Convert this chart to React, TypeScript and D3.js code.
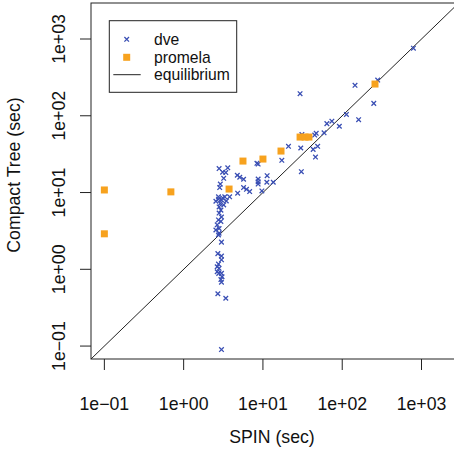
import React from "react";
import * as d3 from "d3";

const dveSpin = [790,280,145,29.4,250,113,161,64,74,92,59,47,45,31,21,30,43,49,46,17.3,30.5,8.4,8.7,8.7,8.7,8.7,11.3,11.2,13.5,9.7,6.8,4.75,5.1,5.7,5.7,6.2,4.8,
  2.8,3.6,3.1,3.4,3.2,2.9,2.85,
  2.75,3.0,3.3,3.8,2.9,3.2,2.75,2.55,3.45,3.1,
  2.8,2.95,2.8,3.0,2.75,2.95,2.65,2.8,2.55,2.8,2.75,
  3.0,2.7,3.0,3.0,2.75,2.65,2.8,2.65,2.77,3.0,3.05,2.95,3.0,2.7,3.4,3.0];
const dveTree = [760,292,249,194,145,104,89,79,85,73,60,59,56,57,40,38,36.5,40,29,26.3,18.7,24,23.5,15,13.8,12.9,16.6,13.6,13.6,10.5,10.3,16.8,15.8,14.9,11.6,11,9.8,
  20.5,21,18.4,18.2,15.3,12.9,11.6,
  8.8,8.0,8.8,8.8,7.2,6.9,8.2,7.7,7.75,8.5,
  6.5,5.9,5.4,4.8,4.4,4.2,3.8,3.4,3.25,2.95,2.8,
  2.26,1.6,1.49,1.33,1.17,1.08,1.03,0.93,0.885,0.885,0.80,0.735,0.68,0.48,0.42,0.09];

const promelaSpin = [0.1,0.1,0.69,3.74,5.6,10.0,16.9,29.4,34,38,259];
const promelaTree = [10.8,2.9,10.2,11.1,25.7,27.3,34.7,52.8,52.8,52.8,259];

const tickValues = [0.1, 1, 10, 100, 1000];
const tickLabels = ["1e\u221201", "1e+00", "1e+01", "1e+02", "1e+03"];
const legendLabels = ["dve", "promela", "equilibrium"];
const xTitle = "SPIN (sec)";
const yTitle = "Compact Tree (sec)";

const BLUE = "#3a4fb4";
const ORANGE = "#f7a21e";
const FONT = "Liberation Sans, Arial, sans-serif";

export default function App() {
  const W = 454, H = 452;
  const left = 91, right = 458.7, top = 3, bottom = 359;
  const lo = Math.pow(10, -1.1685), hi = Math.pow(10, 3.469);
  const x = d3.scaleLog().domain([lo, hi]).range([left, right]);
  const y = d3.scaleLog().domain([lo, hi]).range([bottom, top]);
  const fs = 17.7;
  const tick = 11;
  const s = 2.3;
  const sq = 7;
  const diag = d3.line<number>().x(v => x(v)).y(v => y(v))([lo, hi]) || "";

  return (
    <svg width={W} height={H} style={{ position: "absolute", left: 0, top: 0, background: "#fff" }} fontFamily={FONT}>
      <defs>
        <clipPath id="plotclip">
          <rect x={left} y={top} width={right - left} height={bottom - top} />
        </clipPath>
      </defs>
      <rect x={0} y={0} width={W} height={H} fill="#fff" />
      <g clipPath="url(#plotclip)">
        <path d={diag} stroke="#222" strokeWidth={1} fill="none" />
        {dveSpin.map((v, i) => {
          const cx = x(v), cy = y(dveTree[i]);
          return (
            <path key={"d" + i}
              d={`M${cx - s},${cy - s}L${cx + s},${cy + s}M${cx - s},${cy + s}L${cx + s},${cy - s}`}
              stroke={BLUE} strokeWidth={1.3} fill="none" />
          );
        })}
        {promelaSpin.map((v, i) => (
          <rect key={"p" + i} x={x(v) - sq / 2} y={y(promelaTree[i]) - sq / 2} width={sq} height={sq} fill={ORANGE} />
        ))}
      </g>
      <rect x={left} y={top} width={right - left} height={bottom - top} fill="none" stroke="#222" strokeWidth={1} />
      {tickValues.map((v, i) => (
        <g key={"xt" + i}>
          <line x1={x(v)} x2={x(v)} y1={bottom} y2={bottom + tick} stroke="#222" />
          <text x={x(v)} y={410} fontSize={fs} textAnchor="middle" fill="#111">{tickLabels[i]}</text>
        </g>
      ))}
      {tickValues.map((v, i) => (
        <g key={"yt" + i}>
          <line x1={left} x2={left - tick} y1={y(v)} y2={y(v)} stroke="#222" />
          <text transform={`translate(65,${y(v)}) rotate(-90)`} fontSize={fs} textAnchor="middle" fill="#111">{tickLabels[i]}</text>
        </g>
      ))}
      <text x={272} y={443} fontSize={fs} textAnchor="middle" fill="#111">{xTitle}</text>
      <text transform={`translate(20,175) rotate(-90)`} fontSize={fs} textAnchor="middle" fill="#111">{yTitle}</text>
      <g>
        <rect x={109.3} y={20.7} width={127.4} height={71.6} fill="#fff" stroke="#222" strokeWidth={1} />
        <path d={`M${126.7 - s},${39.3 - s}L${126.7 + s},${39.3 + s}M${126.7 - s},${39.3 + s}L${126.7 + s},${39.3 - s}`} stroke={BLUE} strokeWidth={1.3} />
        <rect x={126.7 - sq / 2} y={57.3 - sq / 2} width={sq} height={sq} fill={ORANGE} />
        <line x1={113.3} x2={140.7} y1={74.7} y2={74.7} stroke="#222" />
        {legendLabels.map((t, i) => (
          <text key={t} x={154} y={[39.3, 57.3, 74.7][i] + 5.5} fontSize={15.7} fill="#111">{t}</text>
        ))}
      </g>
    </svg>
  );
}
